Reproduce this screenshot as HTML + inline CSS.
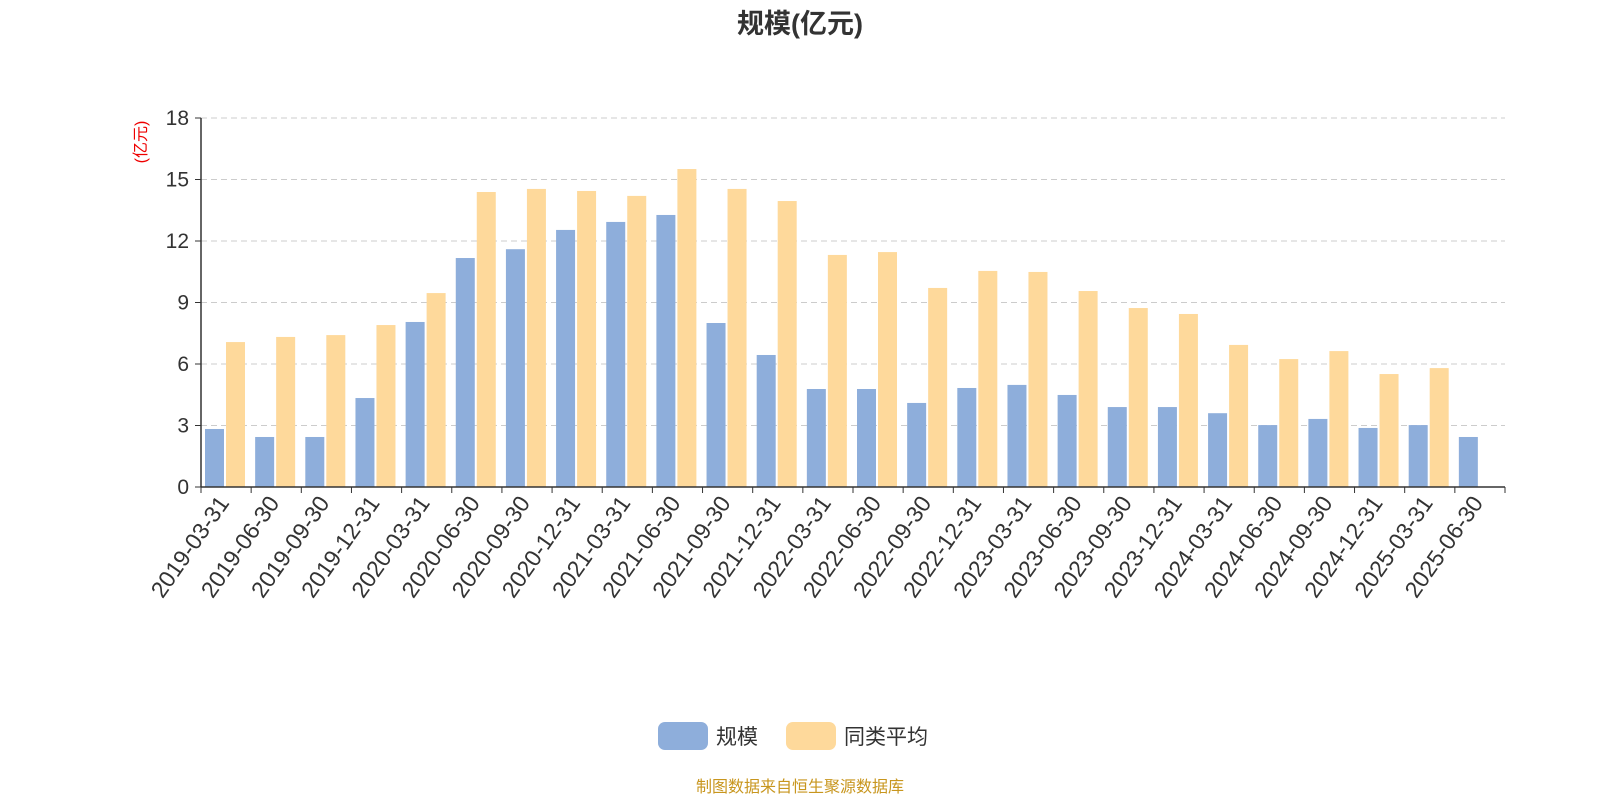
<!DOCTYPE html>
<html><head><meta charset="utf-8">
<style>
body{margin:0;background:#fff;width:1600px;height:800px;overflow:hidden;font-family:"Liberation Sans","Noto Sans CJK SC",sans-serif;}
</style></head>
<body>
<svg id="chart" width="1600" height="800" xmlns="http://www.w3.org/2000/svg" font-family="Liberation Sans, Noto Sans CJK SC, sans-serif">
<text x="800" y="33" text-anchor="middle" font-size="27" font-weight="bold" fill="#333">规模(亿元)</text>
<text transform="translate(146,142) rotate(-90)" text-anchor="middle" font-size="16" fill="#e00">(亿元)</text>
<g id="grid"></g><g id="bars"></g><g id="axes"></g>
<g>
<rect x="658" y="722" width="50" height="28" rx="7" fill="#8eaedb"/>
<text x="716" y="744" font-size="21" fill="#333">规模</text>
<rect x="786" y="722" width="50" height="28" rx="7" fill="#fed99b"/>
<text x="844" y="744" font-size="21" fill="#333">同类平均</text>
</g>
<text x="800" y="792" text-anchor="middle" font-size="16" fill="#c8961e">制图数据来自恒生聚源数据库</text>
</svg>
<script>
const categories=["2019-03-31","2019-06-30","2019-09-30","2019-12-31","2020-03-31","2020-06-30","2020-09-30","2020-12-31","2021-03-31","2021-06-30","2021-09-30","2021-12-31","2022-03-31","2022-06-30","2022-09-30","2022-12-31","2023-03-31","2023-06-30","2023-09-30","2023-12-31","2024-03-31","2024-06-30","2024-09-30","2024-12-31","2025-03-31","2025-06-30"];
const scaleValues=[2.83,2.44,2.44,4.34,8.05,11.17,11.6,12.54,12.93,13.27,8.0,6.44,4.78,4.78,4.1,4.83,4.98,4.49,3.9,3.9,3.6,3.02,3.32,2.88,3.02,2.44];
const avgValues=[7.07,7.32,7.41,7.9,9.46,14.39,14.54,14.44,14.2,15.51,14.54,13.95,11.32,11.46,9.71,10.54,10.49,9.56,8.73,8.44,6.93,6.24,6.63,5.51,5.8,null];
const yTicks=[0,3,6,9,12,15,18];
const NS="http://www.w3.org/2000/svg";
const X0=201,X1=1505,Y0=487,Y1=118,YMAX=18;
const band=(X1-X0)/categories.length;
const y=v=>Y0-(v/YMAX)*(Y0-Y1);
const xb=i=>X0+i*band;
function mk(tag,attrs,parent){const e=document.createElementNS(NS,tag);for(const k in attrs)e.setAttribute(k,attrs[k]);parent.appendChild(e);return e;}
const grid=document.getElementById('grid'),bars=document.getElementById('bars'),axes=document.getElementById('axes');
yTicks.forEach(t=>{
  if(t>0){const g=mk('line',{x1:X0,x2:X1,y1:y(t),y2:y(t),stroke:'#ccc','stroke-dasharray':'6,4'},grid);
  
  }
  const tl=mk('line',{x1:X0-6,x2:X0,y1:y(t),y2:y(t),stroke:'#333'},axes);
  
  
  const tx=mk('text',{x:X0-12,y:y(t)+7,'text-anchor':'end','font-size':21,fill:'#333'},axes);tx.textContent=t;
  
  
});
const bw=19;
categories.forEach((c,i)=>{
  const s=scaleValues[i];
  if(s!=null){const r=mk('rect',{x:xb(i)+4,y:y(s),width:bw,height:Y0-y(s),fill:'#8eaedb'},bars);
  
  }
  const a=avgValues[i];
  if(a!=null){const r=mk('rect',{x:xb(i)+25,y:y(a),width:bw,height:Y0-y(a),fill:'#fed99b'},bars);
  
  }
  const tk=mk('line',{x1:xb(i),x2:xb(i),y1:Y0,y2:Y0+6,stroke:'#333'},axes);
  
  
  const cx=xb(i)+band/2;
  const lb=mk('text',{transform:`translate(${cx+4},${Y0+16}) rotate(-55)`,'text-anchor':'end','font-size':23,fill:'#333'},axes);lb.textContent=c;
  
  
});
const lt=mk('line',{x1:X1,x2:X1,y1:Y0,y2:Y0+6,stroke:'#333'},axes);


const xa=mk('line',{x1:X0,x2:X1,y1:Y0,y2:Y0,stroke:'#333','stroke-width':1.5},axes);


const ya=mk('line',{x1:X0,x2:X0,y1:Y1,y2:Y0,stroke:'#333','stroke-width':1.5},axes);


</script>
</body></html>
